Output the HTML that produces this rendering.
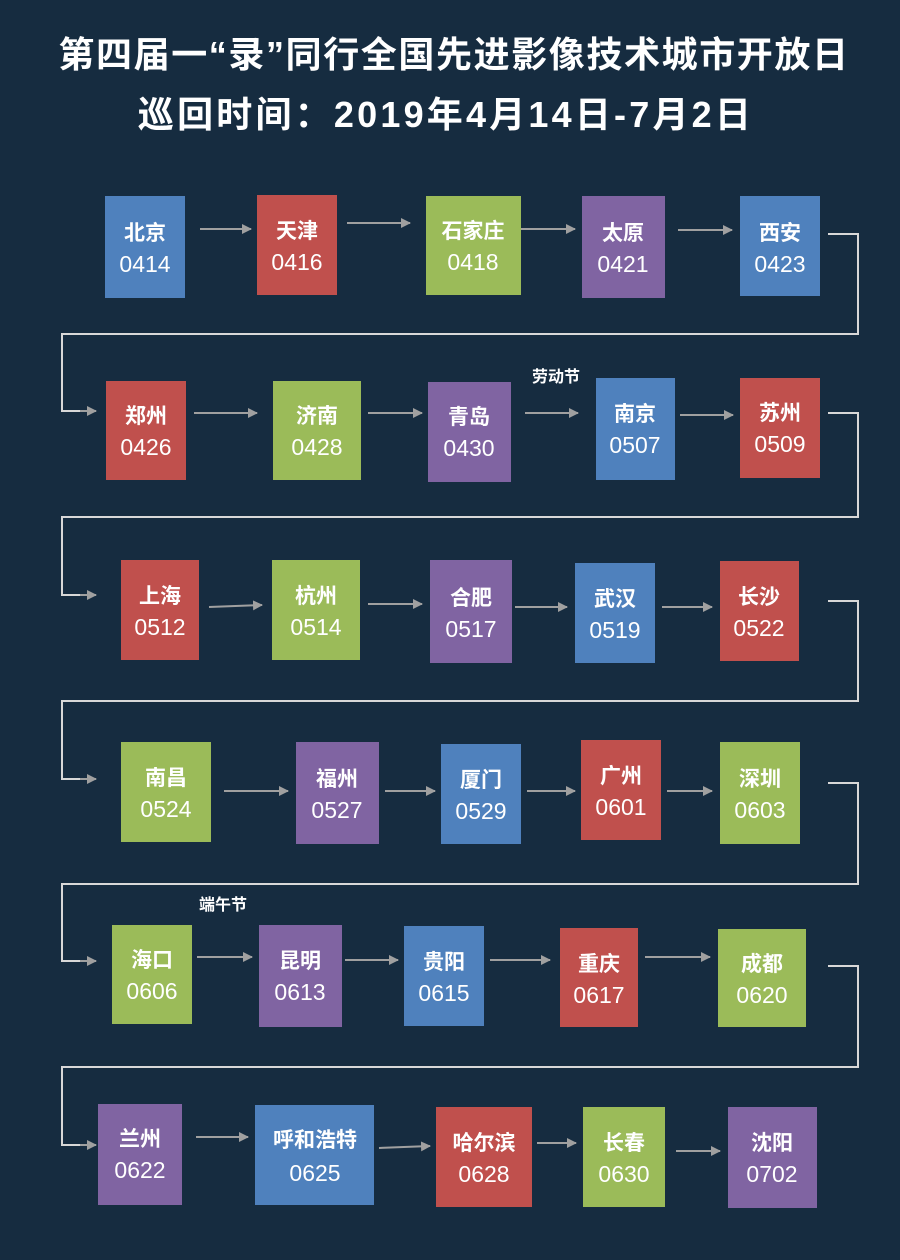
<!DOCTYPE html>
<html><head><meta charset="utf-8"><style>
html,body{margin:0;padding:0;background:#162c40;}
svg{display:block}
text{font-family:"Liberation Sans","Noto Sans CJK SC",sans-serif;fill:#fff;text-anchor:middle}
.n{font-weight:bold;font-size:21px}
.d{font-size:23px}
</style></head><body>
<svg width="900" height="1260" viewBox="0 0 900 1260" xmlns="http://www.w3.org/2000/svg">
<rect width="900" height="1260" fill="#162c40"/>
<defs><marker id="a" markerWidth="10" markerHeight="10" refX="9" refY="5" orient="auto" markerUnits="userSpaceOnUse"><path d="M0,0 L10,5 L0,10 Z" fill="#a0a0a0"/></marker></defs>
<text x="454" y="67" style="font-size:36px;font-weight:bold;letter-spacing:1.6px">第四届一“录”同行全国先进影像技术城市开放日</text>
<text x="446" y="127" style="font-size:36px;font-weight:bold;letter-spacing:3.2px">巡回时间：2019年4月14日-7月2日</text>
<g fill="none" stroke="#d8d8d8" stroke-width="2">
<polyline points="828,234 858,234 858,334 62,334 62,411 80,411"/>
<polyline points="828,413 858,413 858,517 62,517 62,595 80,595"/>
<polyline points="828,601 858,601 858,701 62,701 62,779 80,779"/>
<polyline points="828,783 858,783 858,884 62,884 62,961 80,961"/>
<polyline points="828,966 858,966 858,1067 62,1067 62,1145 80,1145"/>
</g>
<g stroke="#a0a0a0" stroke-width="2" marker-end="url(#a)">
<line x1="80" y1="411" x2="96" y2="411"/><line x1="80" y1="595" x2="96" y2="595"/><line x1="80" y1="779" x2="96" y2="779"/><line x1="80" y1="961" x2="96" y2="961"/><line x1="80" y1="1145" x2="96" y2="1145"/>
<line x1="200" y1="229" x2="251" y2="229"/><line x1="347" y1="223" x2="410" y2="223"/><line x1="521" y1="229" x2="575" y2="229"/><line x1="678" y1="230" x2="732" y2="230"/>
<line x1="194" y1="413" x2="257" y2="413"/><line x1="368" y1="413" x2="422" y2="413"/><line x1="525" y1="413" x2="578" y2="413"/><line x1="680" y1="415" x2="733" y2="415"/>
<line x1="209" y1="607" x2="262" y2="605"/><line x1="368" y1="604" x2="422" y2="604"/><line x1="515" y1="607" x2="567" y2="607"/><line x1="662" y1="607" x2="712" y2="607"/>
<line x1="224" y1="791" x2="288" y2="791"/><line x1="385" y1="791" x2="435" y2="791"/><line x1="527" y1="791" x2="575" y2="791"/><line x1="667" y1="791" x2="712" y2="791"/>
<line x1="197" y1="957" x2="252" y2="957"/><line x1="345" y1="960" x2="398" y2="960"/><line x1="490" y1="960" x2="550" y2="960"/><line x1="645" y1="957" x2="710" y2="957"/>
<line x1="196" y1="1137" x2="248" y2="1137"/><line x1="379" y1="1148" x2="430" y2="1146"/><line x1="537" y1="1143" x2="576" y2="1143"/><line x1="676" y1="1151" x2="720" y2="1151"/>
</g>
<text x="556" y="382" style="font-size:16px;font-weight:bold">劳动节</text>
<text x="223" y="910" style="font-size:16px;font-weight:bold">端午节</text>
<g id="boxes">
<rect x="105" y="196" width="80" height="102" fill="#4f81bd"/><text class="n" x="145" y="240">北京</text><text class="d" x="145" y="272">0414</text>
<rect x="257" y="195" width="80" height="100" fill="#c0504d"/><text class="n" x="297" y="238">天津</text><text class="d" x="297" y="270">0416</text>
<rect x="426" y="196" width="95" height="99" fill="#9bbb59"/><text class="n" x="473" y="238">石家庄</text><text class="d" x="473" y="270">0418</text>
<rect x="582" y="196" width="83" height="102" fill="#8064a2"/><text class="n" x="623" y="240">太原</text><text class="d" x="623" y="272">0421</text>
<rect x="740" y="196" width="80" height="100" fill="#4f81bd"/><text class="n" x="780" y="240">西安</text><text class="d" x="780" y="272">0423</text>
<rect x="106" y="381" width="80" height="99" fill="#c0504d"/><text class="n" x="146" y="423">郑州</text><text class="d" x="146" y="455">0426</text>
<rect x="273" y="381" width="88" height="99" fill="#9bbb59"/><text class="n" x="317" y="423">济南</text><text class="d" x="317" y="455">0428</text>
<rect x="428" y="382" width="83" height="100" fill="#8064a2"/><text class="n" x="469" y="424">青岛</text><text class="d" x="469" y="456">0430</text>
<rect x="596" y="378" width="79" height="102" fill="#4f81bd"/><text class="n" x="635" y="421">南京</text><text class="d" x="635" y="453">0507</text>
<rect x="740" y="378" width="80" height="100" fill="#c0504d"/><text class="n" x="780" y="420">苏州</text><text class="d" x="780" y="452">0509</text>
<rect x="121" y="560" width="78" height="100" fill="#c0504d"/><text class="n" x="160" y="603">上海</text><text class="d" x="160" y="635">0512</text>
<rect x="272" y="560" width="88" height="100" fill="#9bbb59"/><text class="n" x="316" y="603">杭州</text><text class="d" x="316" y="635">0514</text>
<rect x="430" y="560" width="82" height="103" fill="#8064a2"/><text class="n" x="471" y="605">合肥</text><text class="d" x="471" y="637">0517</text>
<rect x="575" y="563" width="80" height="100" fill="#4f81bd"/><text class="n" x="615" y="606">武汉</text><text class="d" x="615" y="638">0519</text>
<rect x="720" y="561" width="79" height="100" fill="#c0504d"/><text class="n" x="759" y="604">长沙</text><text class="d" x="759" y="636">0522</text>
<rect x="121" y="742" width="90" height="100" fill="#9bbb59"/><text class="n" x="166" y="785">南昌</text><text class="d" x="166" y="817">0524</text>
<rect x="296" y="742" width="83" height="102" fill="#8064a2"/><text class="n" x="337" y="786">福州</text><text class="d" x="337" y="818">0527</text>
<rect x="441" y="744" width="80" height="100" fill="#4f81bd"/><text class="n" x="481" y="787">厦门</text><text class="d" x="481" y="819">0529</text>
<rect x="581" y="740" width="80" height="100" fill="#c0504d"/><text class="n" x="621" y="783">广州</text><text class="d" x="621" y="815">0601</text>
<rect x="720" y="742" width="80" height="102" fill="#9bbb59"/><text class="n" x="760" y="786">深圳</text><text class="d" x="760" y="818">0603</text>
<rect x="112" y="925" width="80" height="99" fill="#9bbb59"/><text class="n" x="152" y="967">海口</text><text class="d" x="152" y="999">0606</text>
<rect x="259" y="925" width="83" height="102" fill="#8064a2"/><text class="n" x="300" y="968">昆明</text><text class="d" x="300" y="1000">0613</text>
<rect x="404" y="926" width="80" height="100" fill="#4f81bd"/><text class="n" x="444" y="969">贵阳</text><text class="d" x="444" y="1001">0615</text>
<rect x="560" y="928" width="78" height="99" fill="#c0504d"/><text class="n" x="599" y="971">重庆</text><text class="d" x="599" y="1003">0617</text>
<rect x="718" y="929" width="88" height="98" fill="#9bbb59"/><text class="n" x="762" y="971">成都</text><text class="d" x="762" y="1003">0620</text>
<rect x="98" y="1104" width="84" height="101" fill="#8064a2"/><text class="n" x="140" y="1146">兰州</text><text class="d" x="140" y="1178">0622</text>
<rect x="255" y="1105" width="119" height="100" fill="#4f81bd"/><text class="n" x="315" y="1147">呼和浩特</text><text class="d" x="315" y="1181">0625</text>
<rect x="436" y="1107" width="96" height="100" fill="#c0504d"/><text class="n" x="484" y="1150">哈尔滨</text><text class="d" x="484" y="1182">0628</text>
<rect x="583" y="1107" width="82" height="100" fill="#9bbb59"/><text class="n" x="624" y="1150">长春</text><text class="d" x="624" y="1182">0630</text>
<rect x="728" y="1107" width="89" height="101" fill="#8064a2"/><text class="n" x="772" y="1150">沈阳</text><text class="d" x="772" y="1182">0702</text>
</g>
</svg>
</body></html>
